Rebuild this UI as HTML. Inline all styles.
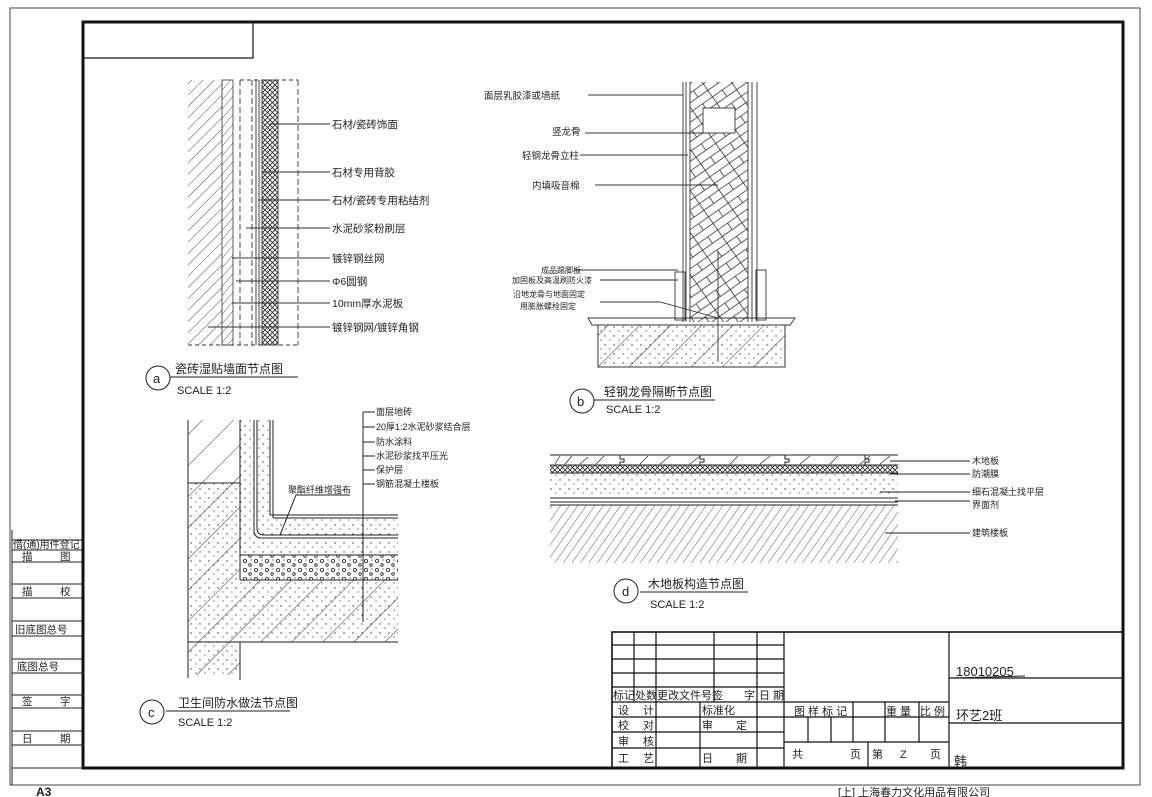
<!DOCTYPE html>
<html><head><meta charset="utf-8"><style>
html,body{margin:0;padding:0;background:#fff}
svg{display:block}
text{font-family:"Liberation Sans","Noto Sans CJK SC",sans-serif;fill:#222}
</style></head><body>
<svg width="1152" height="797" viewBox="0 0 1152 797" xmlns="http://www.w3.org/2000/svg">
<defs>
<pattern id="h1" width="8" height="8" patternUnits="userSpaceOnUse" patternTransform="rotate(45)"><line x1="0" y1="0" x2="0" y2="8" stroke="#333" stroke-width="0.9"/></pattern>
<pattern id="h2" width="22" height="22" patternUnits="userSpaceOnUse" patternTransform="rotate(45)"><line x1="0" y1="0" x2="0" y2="22" stroke="#333" stroke-width="1"/></pattern>
<pattern id="h3" width="6" height="6" patternUnits="userSpaceOnUse" patternTransform="rotate(40)"><line x1="0" y1="0" x2="0" y2="6" stroke="#333" stroke-width="0.8"/></pattern>
<pattern id="hd" width="7" height="7" patternUnits="userSpaceOnUse" patternTransform="rotate(35)"><line x1="0" y1="0" x2="0" y2="7" stroke="#333" stroke-width="0.8"/></pattern>
<pattern id="xh" width="5" height="5" patternUnits="userSpaceOnUse"><path d="M0 0L5 5M5 0L0 5" stroke="#222" stroke-width="0.8"/></pattern>
<pattern id="dots" width="9" height="9" patternUnits="userSpaceOnUse"><circle cx="2" cy="3" r="0.7" fill="#333"/><circle cx="7" cy="7" r="0.6" fill="#333"/></pattern>
<pattern id="peb" width="11" height="9" patternUnits="userSpaceOnUse"><circle cx="3" cy="3" r="1.6" fill="none" stroke="#222" stroke-width="0.8"/><circle cx="8" cy="7" r="1.3" fill="none" stroke="#222" stroke-width="0.8"/><circle cx="9" cy="2" r="0.6" fill="#222"/></pattern>
<pattern id="brick" width="24" height="16" patternUnits="userSpaceOnUse" patternTransform="rotate(-35)"><rect width="24" height="16" fill="none" stroke="#333" stroke-width="0.8"/><line x1="12" y1="8" x2="12" y2="16" stroke="#333" stroke-width="0.8"/><line x1="0" y1="8" x2="24" y2="8" stroke="#333" stroke-width="0.8"/></pattern>
</defs>
<rect width="1152" height="797" fill="#fff"/>
<rect x="10" y="8" width="1130" height="777" fill="none" stroke="#444" stroke-width="1"/>
<rect x="83" y="22" width="1040" height="746" fill="none" stroke="#111" stroke-width="3"/>
<rect x="83" y="22" width="170" height="36" fill="none" stroke="#111" stroke-width="1.2"/>
<g stroke="#222" stroke-width="1" fill="none">
<line x1="12" y1="530" x2="12" y2="785"/>
<line x1="12" y1="540" x2="82" y2="540"/><line x1="12" y1="550" x2="82" y2="550"/>
<line x1="12" y1="562" x2="82" y2="562"/><line x1="12" y1="584" x2="82" y2="584"/>
<line x1="12" y1="598" x2="82" y2="598"/><line x1="12" y1="621" x2="82" y2="621"/>
<line x1="12" y1="636" x2="82" y2="636"/><line x1="12" y1="659" x2="82" y2="659"/>
<line x1="12" y1="673" x2="82" y2="673"/><line x1="12" y1="695" x2="82" y2="695"/>
<line x1="12" y1="708" x2="82" y2="708"/><line x1="12" y1="731" x2="82" y2="731"/>
<line x1="12" y1="745" x2="82" y2="745"/><line x1="12" y1="768" x2="82" y2="768"/>
</g>
<g font-size="10.5">
<text x="13" y="548" font-size="10">借(通)用件登记</text>
<text x="22" y="560">描</text><text x="60" y="560">图</text>
<text x="22" y="595">描</text><text x="60" y="595">校</text>
<text x="15" y="633">旧底图总号</text>
<text x="17" y="670">底图总号</text>
<text x="22" y="705">签</text><text x="60" y="705">字</text>
<text x="22" y="742">日</text><text x="60" y="742">期</text>
</g>
<text x="36" y="796" font-size="12" font-weight="bold">A3</text>
<text x="838" y="796" font-size="11">[上] 上海春力文化用品有限公司</text>

<g stroke="#111" stroke-width="1.2" fill="none">
<rect x="612" y="632" width="511" height="136" stroke-width="1.6"/>
<line x1="612" y1="645" x2="784" y2="645"/><line x1="612" y1="659" x2="784" y2="659"/>
<line x1="612" y1="673" x2="784" y2="673"/><line x1="612" y1="687" x2="784" y2="687"/>
<line x1="612" y1="702" x2="784" y2="702"/><line x1="612" y1="717" x2="784" y2="717"/>
<line x1="612" y1="732" x2="784" y2="732"/><line x1="612" y1="748" x2="784" y2="748"/>
<line x1="634" y1="632" x2="634" y2="702"/><line x1="656" y1="632" x2="656" y2="768"/>
<line x1="714" y1="632" x2="714" y2="702"/><line x1="700" y1="702" x2="700" y2="768"/>
<line x1="757" y1="632" x2="757" y2="768"/>
<line x1="784" y1="632" x2="784" y2="768"/><line x1="949" y1="632" x2="949" y2="768"/>
<line x1="949" y1="678" x2="1123" y2="678"/><line x1="949" y1="723" x2="1123" y2="723"/>
<line x1="784" y1="702" x2="949" y2="702"/><line x1="784" y1="717" x2="949" y2="717"/>
<line x1="784" y1="742" x2="949" y2="742"/>
<line x1="808" y1="717" x2="808" y2="742"/><line x1="831" y1="717" x2="831" y2="742"/>
<line x1="853" y1="702" x2="853" y2="742"/><line x1="885" y1="702" x2="885" y2="742"/>
<line x1="919" y1="702" x2="919" y2="742"/><line x1="868" y1="742" x2="868" y2="768"/>
</g>
<g font-size="11">
<text x="613" y="699">标记处数更改文件号签</text><text x="744" y="699">字</text><text x="759" y="699">日 期</text>
<text x="618" y="714">设</text><text x="643" y="714">计</text><text x="702" y="714">标准化</text>
<text x="618" y="729">校</text><text x="643" y="729">对</text><text x="702" y="729">审</text><text x="736" y="729">定</text>
<text x="618" y="745">审</text><text x="643" y="745">核</text>
<text x="618" y="762">工</text><text x="643" y="762">艺</text><text x="702" y="762">日</text><text x="736" y="762">期</text>
<text x="794" y="715">图 样 标 记</text><text x="886" y="715">重 量</text><text x="920" y="715">比 例</text>
<text x="792" y="758">共</text><text x="850" y="758">页</text><text x="872" y="758">第</text><text x="900" y="758">Z</text><text x="930" y="758">页</text>
</g>
<g font-size="13">
<text x="956" y="676">18010205</text><line x1="952" y1="678" x2="1025" y2="676" stroke="#222"/>
<text x="956" y="720">环艺2班</text>
<text x="954" y="766">韩</text>
</g>

<rect x="188" y="80" width="34" height="265" fill="url(#h1)"/>
<rect x="222" y="80" width="11" height="265" fill="url(#h3)" stroke="#333" stroke-width="0.8"/>
<g stroke="#333" fill="none" stroke-width="0.9">
<line x1="240" y1="80" x2="240" y2="345" stroke-dasharray="6 3"/>
<line x1="252" y1="80" x2="252" y2="345" stroke-dasharray="6 3"/>
<line x1="256" y1="80" x2="256" y2="345"/><line x1="259" y1="80" x2="259" y2="345"/>
<rect x="262" y="80" width="16" height="265" fill="url(#xh)"/>
<line x1="298" y1="80" x2="298" y2="345" stroke-dasharray="6 3"/>
<line x1="240" y1="80" x2="298" y2="80" stroke-dasharray="4 3"/>
<line x1="188" y1="345" x2="298" y2="345" stroke-dasharray="4 3"/>
<line x1="270" y1="124" x2="330" y2="124"/><line x1="262" y1="172" x2="330" y2="172"/>
<line x1="258" y1="200" x2="330" y2="200"/><line x1="246" y1="228" x2="330" y2="228"/>
<line x1="232" y1="258" x2="330" y2="258"/><line x1="236" y1="281" x2="330" y2="281"/>
<line x1="232" y1="303" x2="330" y2="303"/><line x1="208" y1="327" x2="330" y2="327"/>
</g>
<g font-size="10.5">
<text x="332" y="128">石材/瓷砖饰面</text><text x="332" y="176">石材专用背胶</text>
<text x="332" y="204">石材/瓷砖专用粘结剂</text><text x="332" y="232">水泥砂浆粉刷层</text>
<text x="332" y="262">镀锌钢丝网</text><text x="332" y="285">Φ6圆钢</text>
<text x="332" y="307">10mm厚水泥板</text><text x="332" y="331">镀锌钢网/镀锌角钢</text>
</g>
<circle cx="158" cy="378" r="12" fill="none" stroke="#222"/><text x="153" y="383" font-size="13">a</text>
<text x="175" y="373" font-size="12">瓷砖湿贴墙面节点图</text><line x1="170" y1="377" x2="298" y2="377" stroke="#222"/>
<text x="177" y="394" font-size="11">SCALE  1:2</text>

<rect x="690" y="82" width="58" height="240" fill="url(#brick)"/>
<g stroke="#333" fill="none" stroke-width="0.9">
<line x1="683" y1="82" x2="683" y2="322"/><line x1="686" y1="82" x2="686" y2="322"/>
<line x1="690" y1="82" x2="690" y2="322"/><line x1="748" y1="82" x2="748" y2="322"/>
<line x1="752" y1="82" x2="752" y2="322"/><line x1="757" y1="82" x2="757" y2="322"/>
<rect x="703" y="108" width="32" height="25" fill="#fff"/>
<rect x="675" y="272" width="10" height="48"/><rect x="756" y="270" width="10" height="50"/>
<path d="M588 318 L795 318 L790 325 L592 325 Z"/>
<rect x="598" y="325" width="187" height="42" fill="url(#h2)"/>
<rect x="598" y="325" width="187" height="42" fill="url(#dots)"/>
<line x1="718" y1="252" x2="718" y2="362"/>
<line x1="588" y1="95" x2="683" y2="95"/><line x1="585" y1="133" x2="710" y2="133"/>
<line x1="580" y1="155" x2="688" y2="155"/><line x1="595" y1="185" x2="718" y2="185"/>
<line x1="575" y1="270" x2="678" y2="270"/><line x1="600" y1="280" x2="678" y2="280"/>
<path d="M600 302 L660 302 L718 318"/>
</g>
<g font-size="9.5">
<text x="484" y="99">面层乳胶漆或墙纸</text><text x="552" y="135">竖龙骨</text>
<text x="522" y="159">轻钢龙骨立柱</text><text x="532" y="189">内填吸音棉</text>
<text x="541" y="273" font-size="8">成品踢脚板</text><text x="512" y="283" font-size="8">加固板及高温刷防火漆</text>
<text x="513" y="297" font-size="8">沿地龙骨与地面固定</text><text x="520" y="309" font-size="8">用膨胀螺栓固定</text>
</g>
<circle cx="582" cy="401" r="12" fill="none" stroke="#222"/><text x="577" y="406" font-size="13">b</text>
<text x="604" y="396" font-size="12">轻钢龙骨隔断节点图</text><line x1="594" y1="400" x2="715" y2="400" stroke="#222"/>
<text x="606" y="413" font-size="11">SCALE  1:2</text>

<rect x="188" y="420" width="52" height="255" fill="url(#h2)"/>
<rect x="240" y="580" width="158" height="62" fill="url(#h2)"/>
<rect x="188" y="483" width="52" height="192" fill="url(#dots)"/>
<rect x="240" y="580" width="158" height="62" fill="url(#dots)"/>
<rect x="240" y="420" width="30" height="135" fill="url(#dots)"/>
<rect x="270" y="518" width="128" height="37" fill="url(#dots)"/>
<rect x="240" y="555" width="158" height="25" fill="url(#peb)"/>
<g stroke="#222" fill="none" stroke-width="1">
<line x1="188" y1="420" x2="188" y2="678"/><line x1="240" y1="420" x2="240" y2="580"/>
<line x1="188" y1="483" x2="240" y2="483"/>
<line x1="240" y1="555" x2="398" y2="555"/><line x1="240" y1="580" x2="398" y2="580"/>
<line x1="188" y1="642" x2="398" y2="642"/><line x1="240" y1="642" x2="240" y2="680"/>
<line x1="254" y1="420" x2="254" y2="530"/><path d="M254 530 Q254 538 262 538 L398 538"/>
<path d="M257 420 L257 528 Q257 535 264 535 L398 535"/>
<line x1="270" y1="420" x2="270" y2="515"/><line x1="270" y1="515" x2="398" y2="515"/>
<line x1="273" y1="420" x2="273" y2="518"/><line x1="273" y1="518" x2="398" y2="518"/>
<line x1="363" y1="412" x2="363" y2="622"/>
<line x1="363" y1="412" x2="375" y2="412"/><line x1="363" y1="427" x2="375" y2="427"/>
<line x1="363" y1="442" x2="375" y2="442"/><line x1="363" y1="456" x2="375" y2="456"/>
<line x1="363" y1="470" x2="375" y2="470"/><line x1="363" y1="484" x2="375" y2="484"/>
<path d="M280 535 L296 495 L350 495"/>
</g>
<g font-size="9">
<text x="376" y="415">面层地砖</text><text x="376" y="430">20厚1:2水泥砂浆结合层</text>
<text x="376" y="445">防水涂料</text><text x="376" y="459">水泥砂浆找平压光</text>
<text x="376" y="473">保护层</text><text x="376" y="487">钢筋混凝土楼板</text>
<text x="288" y="493">聚酯纤维增强布</text>
</g>
<circle cx="152" cy="712" r="12" fill="none" stroke="#222"/><text x="148" y="717" font-size="13">c</text>
<text x="178" y="707" font-size="12">卫生间防水做法节点图</text><line x1="166" y1="711" x2="290" y2="711" stroke="#222"/>
<text x="178" y="726" font-size="11">SCALE  1:2</text>

<rect x="550" y="505" width="348" height="58" fill="url(#hd)"/>
<rect x="550" y="473" width="348" height="24" fill="url(#dots)"/>
<rect x="550" y="465" width="348" height="8" fill="url(#xh)"/>
<g stroke="#222" fill="none" stroke-width="1">
<line x1="550" y1="455" x2="898" y2="455"/><line x1="550" y1="465" x2="898" y2="465"/>
<line x1="550" y1="473" x2="898" y2="473"/>
<line x1="550" y1="498" x2="898" y2="498"/><line x1="550" y1="502" x2="898" y2="502"/>
<line x1="550" y1="505" x2="898" y2="505"/>
<path d="M555 464 L560 456 M565 464 L572 456 M580 464 L588 457 M596 464 L604 456 M640 464 L648 456 M660 464 L670 456 M690 464 L700 456 M730 464 L738 456 M760 464 L770 456 M800 464 L810 456 M830 464 L838 456 M860 464 L870 456 M880 464 L890 456" stroke-width="0.7"/>
<path d="M620 455 v4 h4 v3 h-4 v3 M700 455 v4 h4 v3 h-4 v3 M785 455 v4 h4 v3 h-4 v3 M865 455 v4 h4 v3 h-4 v3"/>
<line x1="890" y1="461" x2="970" y2="461"/><line x1="890" y1="474" x2="970" y2="474"/>
<line x1="880" y1="492" x2="970" y2="492"/><line x1="895" y1="501" x2="970" y2="501"/>
<line x1="885" y1="533" x2="970" y2="533"/>
</g>
<g font-size="9">
<text x="972" y="464">木地板</text><text x="972" y="477">防潮膜</text>
<text x="972" y="495">细石混凝土找平层</text><text x="972" y="508">界面剂</text>
<text x="972" y="536">建筑楼板</text>
</g>
<circle cx="626" cy="591" r="12" fill="none" stroke="#222"/><text x="622" y="596" font-size="13">d</text>
<text x="648" y="588" font-size="12">木地板构造节点图</text><line x1="640" y1="592" x2="748" y2="592" stroke="#222"/>
<text x="650" y="608" font-size="11">SCALE  1:2</text>
</svg>
</body></html>
